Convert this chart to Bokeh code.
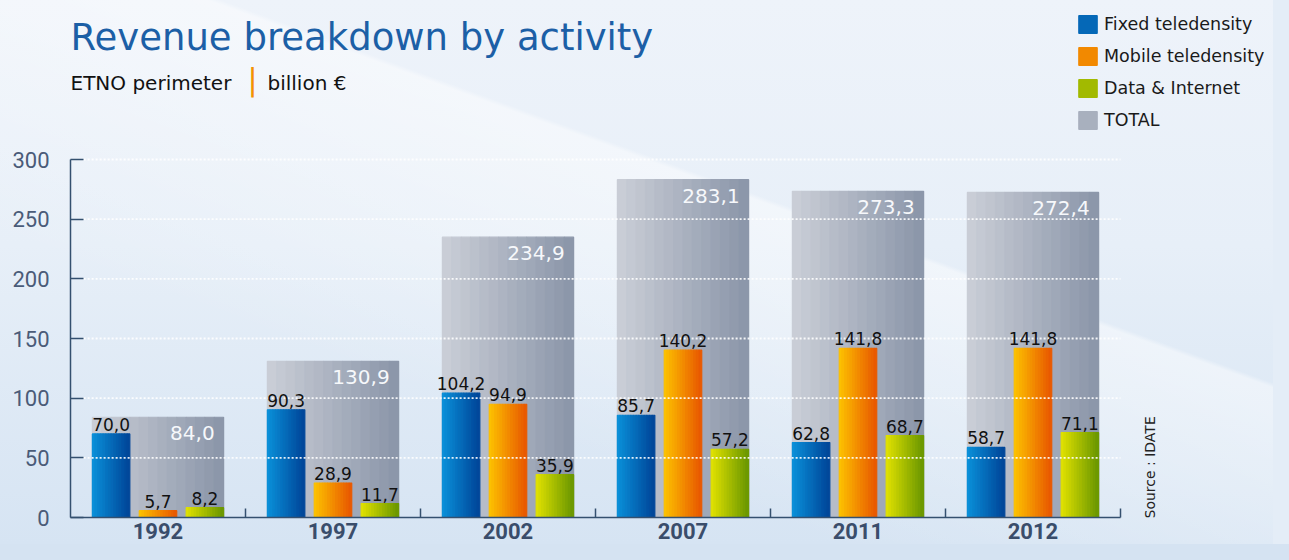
import math
from bokeh.plotting import figure
from bokeh.models import (Range1d, FixedTicker, Label, Legend, LegendItem)
from bokeh.core.properties import value
from bokeh.embed import file_html
from bokeh.resources import INLINE

# ---------------- data ----------------
years = ["1992", "1997", "2002", "2007", "2011", "2012"]
fixed = [70.0, 90.3, 104.2, 85.7, 62.8, 58.7]
mobile = [5.7, 28.9, 94.9, 140.2, 141.8, 141.8]
data_internet = [8.2, 11.7, 35.9, 57.2, 68.7, 71.1]
total = [84.0, 130.9, 234.9, 283.1, 273.3, 272.4]
y_ticks = [0, 50, 100, 150, 200, 250, 300]
series_names = ["Fixed teledensity", "Mobile teledensity", "Data & Internet", "TOTAL"]

# ---------------- helpers ----------------
def mix(c1, c2, t):
    a = [int(c1[i:i + 2], 16) for i in (1, 3, 5)]
    b = [int(c2[i:i + 2], 16) for i in (1, 3, 5)]
    return "#%02x%02x%02x" % tuple(round(a[j] + (b[j] - a[j]) * t) for j in range(3))

def fmt(v):
    return ("%.1f" % v).replace(".", ",")

N = 14
n = len(years)

W, H = 1273, 544
FL = 70          # frame left (px)
FB = 517         # frame bottom = x axis line (px)
TOP300 = 159     # pixel row of the value 300
CAT_PX = 175     # pixels per category
y_end = 300 + TOP300 * 300 / (FB - TOP300)
x_end = (W - FL) / CAT_PX

p = figure(width=W, height=H, output_backend="svg", toolbar_location=None,
           x_range=Range1d(0, x_end), y_range=Range1d(0, y_end),
           min_border_left=FL, min_border_right=0, min_border_top=0,
           min_border_bottom=H - FB)
p.border_fill_color = None
p.background_fill_color = None
p.outline_line_color = None
p.styles = {
    "background": "linear-gradient(200deg, rgba(255,255,255,0) 38%, rgba(255,255,255,0.45) 38.5%, rgba(255,255,255,0) 70%), linear-gradient(180deg, #eef3fa 0%, #e7eff8 45%, #d6e4f3 100%)",
    "box-shadow": "16px 0 0 0 #e4edf7, 0 16px 0 0 #d5e3f2, 16px 16px 0 0 #d5e3f2",
}
p.grid.visible = False

def gradient_bars(values, offset, width, c1, c2):
    xs, tops, cols = [], [], []
    for i, v in enumerate(values):
        left = i + 0.5 + offset - width / 2
        for k in range(N):
            xs.append(left + (k + 0.5) * width / N)
            tops.append(v)
            cols.append(mix(c1, c2, k / (N - 1)))
    return p.vbar(x=xs, top=tops, bottom=0, width=width / N,
                  fill_color=cols, line_color=cols, line_width=1.2)

TW = 0.75
BW = 0.214
OFF = 0.268
r_total = gradient_bars(total, 0.0, TW, "#c9cdd6", "#8c97aa")
r_fixed = gradient_bars(fixed, -OFF, BW, "#0a8fd8", "#00479a")
r_mobile = gradient_bars(mobile, 0.0, BW, "#fcc000", "#e95a00")
r_data = gradient_bars(data_internet, OFF, BW, "#dfe000", "#6d9900")

# dotted white grid lines over the bars
gy = [t for t in y_ticks if t > 0]
p.segment(x0=[0.075] * len(gy), x1=[n] * len(gy), y0=gy, y1=gy,
          line_color="white", line_alpha=0.9, line_width=1.8, line_dash="2 2")

# value labels above the coloured bars
lab_x, lab_y, lab_t = [], [], []
for vals, off in ((fixed, -OFF), (mobile, 0.0), (data_internet, OFF)):
    for i, v in enumerate(vals):
        lab_x.append(i + 0.5 + off)
        lab_y.append(v)
        lab_t.append(fmt(v))
p.text(x=lab_x, y=lab_y, text=lab_t, text_align="center", text_baseline="bottom",
       y_offset=-3, text_font=value("DejaVu Sans"), text_font_size="17px",
       text_color="#111111")

# total labels inside grey bars
p.text(x=[i + 0.5 + TW / 2 for i in range(n)], y=total, text=[fmt(v) for v in total],
       text_align="right", text_baseline="top", x_offset=-9, y_offset=9,
       text_font=value("DejaVu Sans"), text_font_size="20px", text_color="#f6f8fb")

# ---------------- axes ----------------
ya = p.yaxis[0]
ya.ticker = FixedTicker(ticks=y_ticks)
ya.bounds = (0, 300)
ya.axis_line_color = "#34506f"
ya.axis_line_width = 1.5
ya.major_tick_in = 13
ya.major_tick_out = 0
ya.major_tick_line_color = "#34506f"
ya.major_tick_line_width = 1.5
ya.minor_tick_line_color = None
ya.major_label_standoff = 21
ya.major_label_text_font = "Roboto"
ya.major_label_text_font_size = "22px"
ya.major_label_text_color = "#4a5b78"

xa = p.xaxis[0]
xa.ticker = FixedTicker(ticks=[i + 0.5 for i in range(n)],
                        minor_ticks=[float(i) for i in range(1, n + 1)])
xa.bounds = (0, n)
xa.major_label_overrides = {i + 0.5: years[i] for i in range(n)}
xa.axis_line_color = "#34506f"
xa.axis_line_width = 1.5
xa.major_tick_line_color = None
xa.major_tick_in = 0
xa.major_tick_out = 0
xa.minor_tick_in = 9
xa.minor_tick_out = 0
xa.minor_tick_line_color = "#34506f"
xa.minor_tick_line_width = 1.5
xa.major_label_standoff = 5
xa.major_label_text_font = "Roboto"
xa.major_label_text_font_style = "bold"
xa.major_label_text_font_size = "22px"
xa.major_label_text_color = "#3a4d6b"

# ---------------- texts (frame-relative screen units) ----------------
def lab(text, px, py, **kw):
    p.add_layout(Label(x=px - FL, y=FB - py, x_units="screen", y_units="screen",
                       text=text, **kw))

lab("Revenue breakdown by activity", 70, 37, text_font="DejaVu Sans",
    text_font_size="37px", text_color="#1c5fa6", text_baseline="alphabetic")
lab("ETNO perimeter", 70, 82, text_font="DejaVu Sans", text_font_size="20px",
    text_color="#111111", text_baseline="alphabetic")
lab("|", 247, 79, text_font="DejaVu Sans", text_font_size="30px",
    text_color="#f39200", text_baseline="alphabetic")
lab("billion €", 267, 82, text_font="DejaVu Sans", text_font_size="20px",
    text_color="#111111", text_baseline="alphabetic")
lab("Source : IDATE", 1149, 518, angle=math.pi / 2, text_font="DejaVu Sans",
    text_font_size="14px", text_color="#222222", text_baseline="alphabetic",
    text_align="left")

# ---------------- legend ----------------
mid = N // 2
legend = Legend(items=[
    LegendItem(label=series_names[0], renderers=[r_fixed], index=mid),
    LegendItem(label=series_names[1], renderers=[r_mobile], index=mid),
    LegendItem(label=series_names[2], renderers=[r_data], index=mid),
    LegendItem(label=series_names[3], renderers=[r_total], index=mid),
], location=(1076 - FL, FB - 131))
legend.label_text_font = "DejaVu Sans"
legend.label_text_font_size = "17.5px"
legend.label_text_color = "#1a1a1a"
legend.glyph_width = 23
legend.glyph_height = 22
legend.label_height = 22
legend.spacing = 10
legend.padding = 0
legend.margin = 0
legend.label_standoff = 5
legend.border_line_color = None
legend.background_fill_alpha = 0
p.add_layout(legend)

open("out.html", "w").write(file_html(p, INLINE))
